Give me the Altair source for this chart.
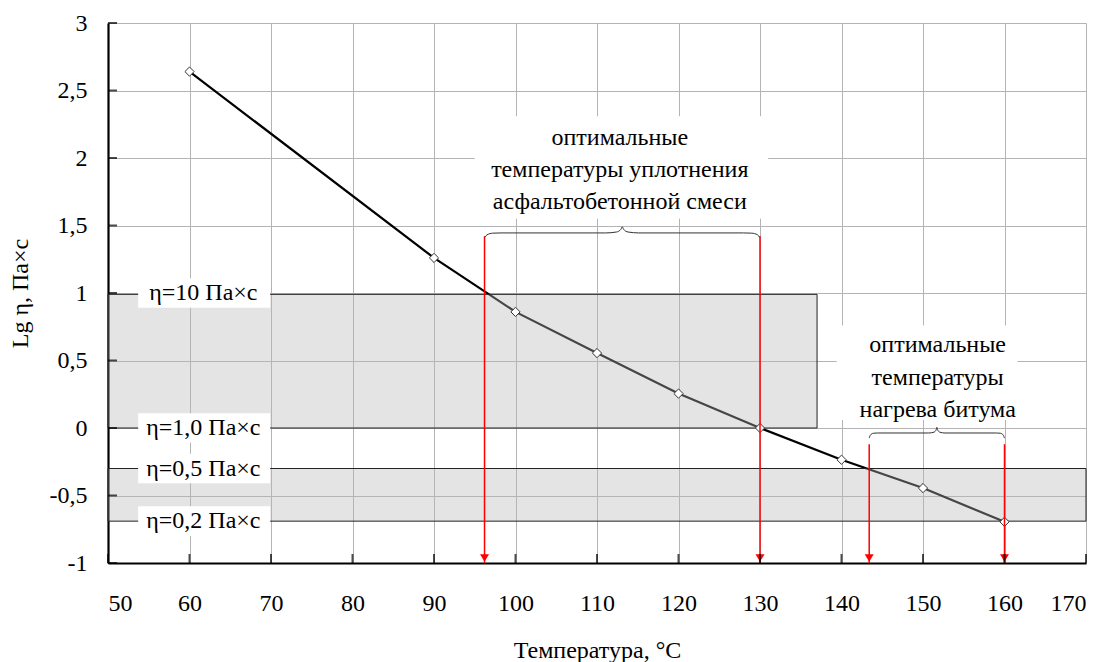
import altair as alt
import pandas as pd

# ---- data ----
temps = [60, 90, 100, 110, 120, 130, 140, 150, 160]
lg_eta = [2.64, 1.26, 0.86, 0.555, 0.255, 0.0, -0.235, -0.445, -0.695]

x_ticks = [50, 60, 70, 80, 90, 100, 110, 120, 130, 140, 150, 160, 170]
y_ticks = [-1, -0.5, 0, 0.5, 1, 1.5, 2, 2.5, 3]

# grey viscosity bands
band_x1 = [50, 50]
band_x2 = [137, 170]
band_y1 = [0.0, -0.30]
band_y2 = [0.99, -0.69]

# viscosity labels
eta_labels = ["η=10 Па×с", "η=1,0 Па×с", "η=0,5 Па×с", "η=0,2 Па×с"]
eta_y = [1.0, 0.0, -0.30, -0.69]
eta_box_x1 = 53.7
eta_box_x2 = 69.9
eta_text_x = 61.7
eta_box_half = 0.11

# red arrows
arrow_x = [96.2, 130, 143.4, 160]
arrow_top = [1.42, 1.42, -0.12, -0.12]
arrow_bottom = -1

# braces: x0, x1, y_end, y_flat, y_peak
braces = [
    (96.2, 130.0, 1.41, 1.445, 1.49),
    (143.4, 160.0, -0.075, -0.037, 0.005),
]

# annotation texts
note1_lines = ["оптимальные", "температуры уплотнения", "асфальтобетонной смеси"]
note1_x = 112.8
note1_y = [2.148, 1.911, 1.674]
note1_box = (95.0, 131.0, 1.55, 2.31)

note2_lines = ["оптимальные", "температуры", "нагрева битума"]
note2_x = 151.8
note2_y = [0.615, 0.37, 0.133]
note2_box = (139.4, 161.6, 0.06, 0.76)

FONT = "Liberation Serif"
FS = 24
W, H = 978, 540

xs = alt.Scale(domain=[50, 170], nice=False, zero=False)
ys = alt.Scale(domain=[-1, 3], nice=False, zero=False)

# ---- tables ----
curve = pd.DataFrame({"t": temps, "v": lg_eta})
bands = pd.DataFrame({"x1": band_x1, "x2": band_x2, "y1": band_y1, "y2": band_y2})
note_boxes = pd.DataFrame({
    "x1": [note1_box[0], note2_box[0]], "x2": [note1_box[1], note2_box[1]],
    "y1": [note1_box[2], note2_box[2]], "y2": [note1_box[3], note2_box[3]],
})
eta_df = pd.DataFrame({
    "label": eta_labels,
    "y": eta_y,
    "y1": [v - eta_box_half for v in eta_y],
    "y2": [v + eta_box_half for v in eta_y],
    "x1": eta_box_x1, "x2": eta_box_x2, "xt": eta_text_x,
})
arrows = pd.DataFrame({"x": arrow_x, "y1": arrow_top, "y2": arrow_bottom})
notes = pd.DataFrame({
    "text": note1_lines + note2_lines,
    "x": [note1_x] * 3 + [note2_x] * 3,
    "y": note1_y + note2_y,
})


def brace_points(x0, x1, y_end, y_flat, y_peak, bid):
    mid = (x0 + x1) / 2
    d = (x1 - x0) * 0.06
    rows = []
    seq = [
        (x0, y_end),
        (x0 + d * 0.15, y_end + (y_flat - y_end) * 0.6),
        (x0 + d * 0.5, y_flat - (y_flat - y_end) * 0.05),
        (x0 + d, y_flat),
        (mid - d, y_flat),
        (mid - d * 0.35, y_flat + (y_peak - y_flat) * 0.15),
        (mid - d * 0.08, y_flat + (y_peak - y_flat) * 0.6),
        (mid, y_peak),
        (mid + d * 0.08, y_flat + (y_peak - y_flat) * 0.6),
        (mid + d * 0.35, y_flat + (y_peak - y_flat) * 0.15),
        (mid + d, y_flat),
        (x1 - d, y_flat),
        (x1 - d * 0.5, y_flat - (y_flat - y_end) * 0.05),
        (x1 - d * 0.15, y_end + (y_flat - y_end) * 0.6),
        (x1, y_end),
    ]
    for i, (px, py) in enumerate(seq):
        rows.append({"x": px, "y": py, "order": i, "b": bid})
    return rows


brace_rows = []
for i, b in enumerate(braces):
    brace_rows += brace_points(*b, i)
brace_df = pd.DataFrame(brace_rows)

xticks_df = pd.DataFrame({"x": x_ticks})
yticks_df = pd.DataFrame({"y": y_ticks})

# ---- layers ----
x_axis = alt.Axis(
    values=x_ticks, title="Температура, °С", grid=True, ticks=False, tickSize=0,
    labelPadding=28, titleY=87, titleBaseline="middle",
)
y_axis = alt.Axis(
    values=y_ticks, title="Lg η, Па×с", grid=True, ticks=False, tickSize=0,
    labelPadding=21, labelExpr="replace(toString(datum.value), '.', ',')",
    titleX=-76, titleY=270, titleBaseline="bottom",
)

base_axes = alt.Chart(curve).mark_point(opacity=0).encode(
    x=alt.X("t:Q", scale=xs, axis=x_axis),
    y=alt.Y("v:Q", scale=ys, axis=y_axis),
)

note_bg = alt.Chart(note_boxes).mark_rect(color="white").encode(
    x=alt.X("x1:Q", scale=xs), x2="x2", y=alt.Y("y1:Q", scale=ys), y2="y2"
)

line = alt.Chart(curve).mark_line(color="black", strokeWidth=2.2).encode(
    x=alt.X("t:Q", scale=xs), y=alt.Y("v:Q", scale=ys)
)

band_layer = alt.Chart(bands).mark_rect(
    fill="#b8b8b8", fillOpacity=0.38, stroke="#222222", strokeWidth=1
).encode(x=alt.X("x1:Q", scale=xs), x2="x2", y=alt.Y("y1:Q", scale=ys), y2="y2")

markers = alt.Chart(curve).mark_point(
    shape="diamond", filled=True, fill="white", stroke="#333333", strokeWidth=1, size=85, opacity=1
).encode(x=alt.X("t:Q", scale=xs), y=alt.Y("v:Q", scale=ys))

eta_bg = alt.Chart(eta_df).mark_rect(color="white").encode(
    x=alt.X("x1:Q", scale=xs), x2="x2", y=alt.Y("y1:Q", scale=ys), y2="y2"
)
eta_text = alt.Chart(eta_df).mark_text(
    font=FONT, fontSize=FS, color="black", align="center", baseline="middle"
).encode(x=alt.X("xt:Q", scale=xs), y=alt.Y("y:Q", scale=ys), text="label:N")

arrow_lines = alt.Chart(arrows).mark_rule(color="#ff0000", strokeWidth=1.5).encode(
    x=alt.X("x:Q", scale=xs), y=alt.Y("y1:Q", scale=ys), y2="y2"
)
arrow_heads = alt.Chart(arrows).mark_point(
    shape="triangle-down", filled=True, color="#ff0000", size=80, opacity=1, yOffset=-5
).encode(x=alt.X("x:Q", scale=xs), y=alt.Y("y2:Q", scale=ys))

brace_layer = alt.Chart(brace_df).mark_line(
    color="#333333", strokeWidth=1, interpolate="monotone"
).encode(
    x=alt.X("x:Q", scale=xs), y=alt.Y("y:Q", scale=ys), detail="b:N", order="order:Q"
)

note_text = alt.Chart(notes).mark_text(
    font=FONT, fontSize=FS, color="black", align="center", baseline="middle"
).encode(x=alt.X("x:Q", scale=xs), y=alt.Y("y:Q", scale=ys), text="text:N")

xtick_layer = alt.Chart(xticks_df).mark_tick(
    orient="vertical", color="black", thickness=2, size=9
).encode(x=alt.X("x:Q", scale=xs), y=alt.value(H - 4.5))

ytick_layer = alt.Chart(yticks_df).mark_tick(
    orient="horizontal", color="black", thickness=2, size=9
).encode(y=alt.Y("y:Q", scale=ys), x=alt.value(4.5))

chart = alt.layer(
    base_axes, note_bg, line, band_layer, markers, eta_bg, eta_text,
    arrow_lines, arrow_heads, brace_layer, note_text, xtick_layer, ytick_layer,
).properties(
    width=W, height=H,
    autosize=alt.AutoSizeParams(type="none"),
    padding={"left": 108, "top": 23, "right": 19, "bottom": 99},
    background="white",
).configure_view(stroke=None).configure_axis(
    labelFont=FONT, labelFontSize=FS, labelColor="black",
    titleFont=FONT, titleFontSize=FS, titleColor="black", titleFontWeight="normal",
    gridColor="#b4b4b4", gridWidth=1, gridOpacity=1,
    domainColor="black", domainWidth=2.2,
).configure_text(font=FONT)

chart.save("out.html", embed_options={"renderer": "svg", "actions": False})
